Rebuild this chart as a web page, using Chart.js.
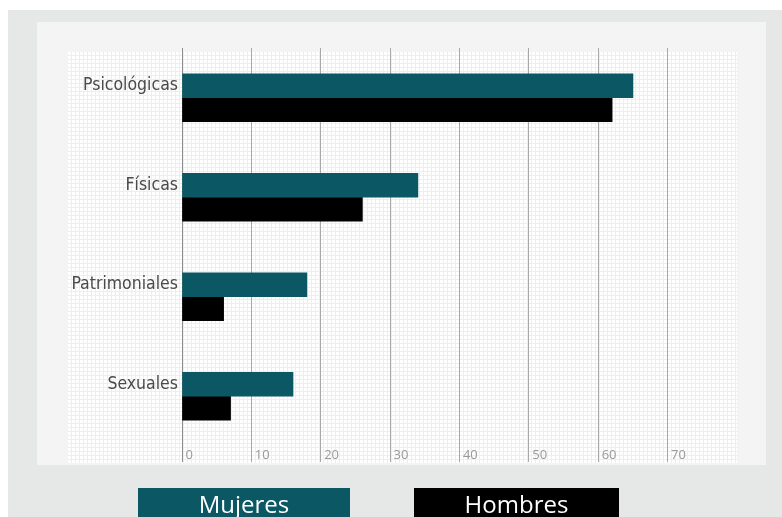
<!DOCTYPE html>
<html>
<head>
<meta charset="utf-8">
<script src="https://cdn.jsdelivr.net/npm/chart.js@4"></script>
<style>
  html, body { margin: 0; padding: 0; background: #fff; }
  canvas { display: block; }
</style>
</head>
<body>
<canvas id="violencia-chart" width="782" height="517"></canvas>
<script>
const categories = ["Psicológicas", "Físicas", "Patrimoniales", "Sexuales"];
const mujeres = [65, 34, 18, 16];
const hombres = [62, 26, 6, 7];
const seriesNames = ["Mujeres", "Hombres"];
const xTicks = [0, 10, 20, 30, 40, 50, 60, 70];

const TEAL = "#0b5864";

// fine mesh used behind the plot
function meshPattern(ctx) {
  const c = document.createElement("canvas");
  c.width = 4;
  c.height = 4;
  const p = c.getContext("2d");
  p.fillStyle = "#ffffff";
  p.fillRect(0, 0, 4, 4);
  p.fillStyle = "#eeeeee";
  p.fillRect(0, 3, 4, 1);
  p.fillRect(3, 0, 1, 4);
  return ctx.createPattern(c, "repeat");
}

const backdrop = {
  id: "backdrop",
  beforeDraw(chart) {
    const ctx = chart.ctx;
    const area = chart.chartArea;
    ctx.save();
    ctx.fillStyle = "#ffffff";
    ctx.fillRect(0, 0, chart.width, chart.height);
    ctx.fillStyle = "#e6e7e7";
    ctx.fillRect(8, 10, chart.width - 8, chart.height - 10);
    ctx.fillStyle = "#f4f4f4";
    ctx.fillRect(37, 22, 729, 443);
    ctx.fillStyle = meshPattern(ctx);
    ctx.fillRect(68, 52, area.right - 68, 411);
    ctx.restore();
  },
  afterDraw(chart) {
    // legend boxes with the series name written inside
    const ctx = chart.ctx;
    const boxes = [
      { x: 138, w: 212 },
      { x: 414, w: 205 },
    ];
    ctx.save();
    chart.data.datasets.forEach((ds, i) => {
      const b = boxes[i];
      ctx.fillStyle = ds.backgroundColor;
      ctx.fillRect(b.x, 488, b.w, 40);
      ctx.fillStyle = "#ffffff";
      ctx.font = "24px 'Open Sans'";
      ctx.textAlign = "center";
      ctx.textBaseline = "alphabetic";
      ctx.fillText(ds.label, b.x + b.w / 2, 513);
    });
    ctx.restore();
  },
};

new Chart(document.getElementById("violencia-chart"), {
  type: "bar",
  data: {
    labels: categories,
    datasets: [
      {
        label: seriesNames[0],
        data: mujeres,
        backgroundColor: TEAL,
        barThickness: 24,
      },
      {
        label: seriesNames[1],
        data: hombres,
        backgroundColor: "#000000",
        barThickness: 24,
      },
    ],
  },
  options: {
    indexAxis: "y",
    responsive: false,
    animation: false,
    layout: {
      padding: { top: 48, right: 45, bottom: 55, left: 0 },
    },
    scales: {
      x: {
        min: 0,
        max: 80,
        afterFit: (scale) => {
          scale.height = 16;
        },
        afterBuildTicks: (scale) => {
          scale.ticks = xTicks.concat([80]).map((v) => ({ value: v }));
        },
        border: { display: false },
        grid: {
          color: (c) => {
            if (c.tick && c.tick.value === 80) return "rgba(0,0,0,0)";
            return c.tick && c.tick.value === 0 ? "#8c8c8c" : "#a8a8a8";
          },
          lineWidth: 1,
          drawTicks: true,
          tickLength: 16,
        },
        ticks: {
          align: "start",
          padding: -15,
          color: "#9a9a9a",
          font: { family: "'Open Sans'", size: 13 },
          callback: (v) => (xTicks.includes(v) ? " " + v : ""),
        },
      },
      y: {
        afterFit: (scale) => {
          scale.width = 182;
        },
        border: { display: false },
        grid: { display: false, drawTicks: false },
        ticks: {
          padding: 4,
          labelOffset: -12,
          color: "#4a4a4a",
          font: { family: "'DejaVu Sans Condensed'", size: 17.5 },
        },
      },
    },
    plugins: {
      legend: { display: false },
      tooltip: { enabled: false },
    },
  },
  plugins: [backdrop],
});
</script>
</body>
</html>
